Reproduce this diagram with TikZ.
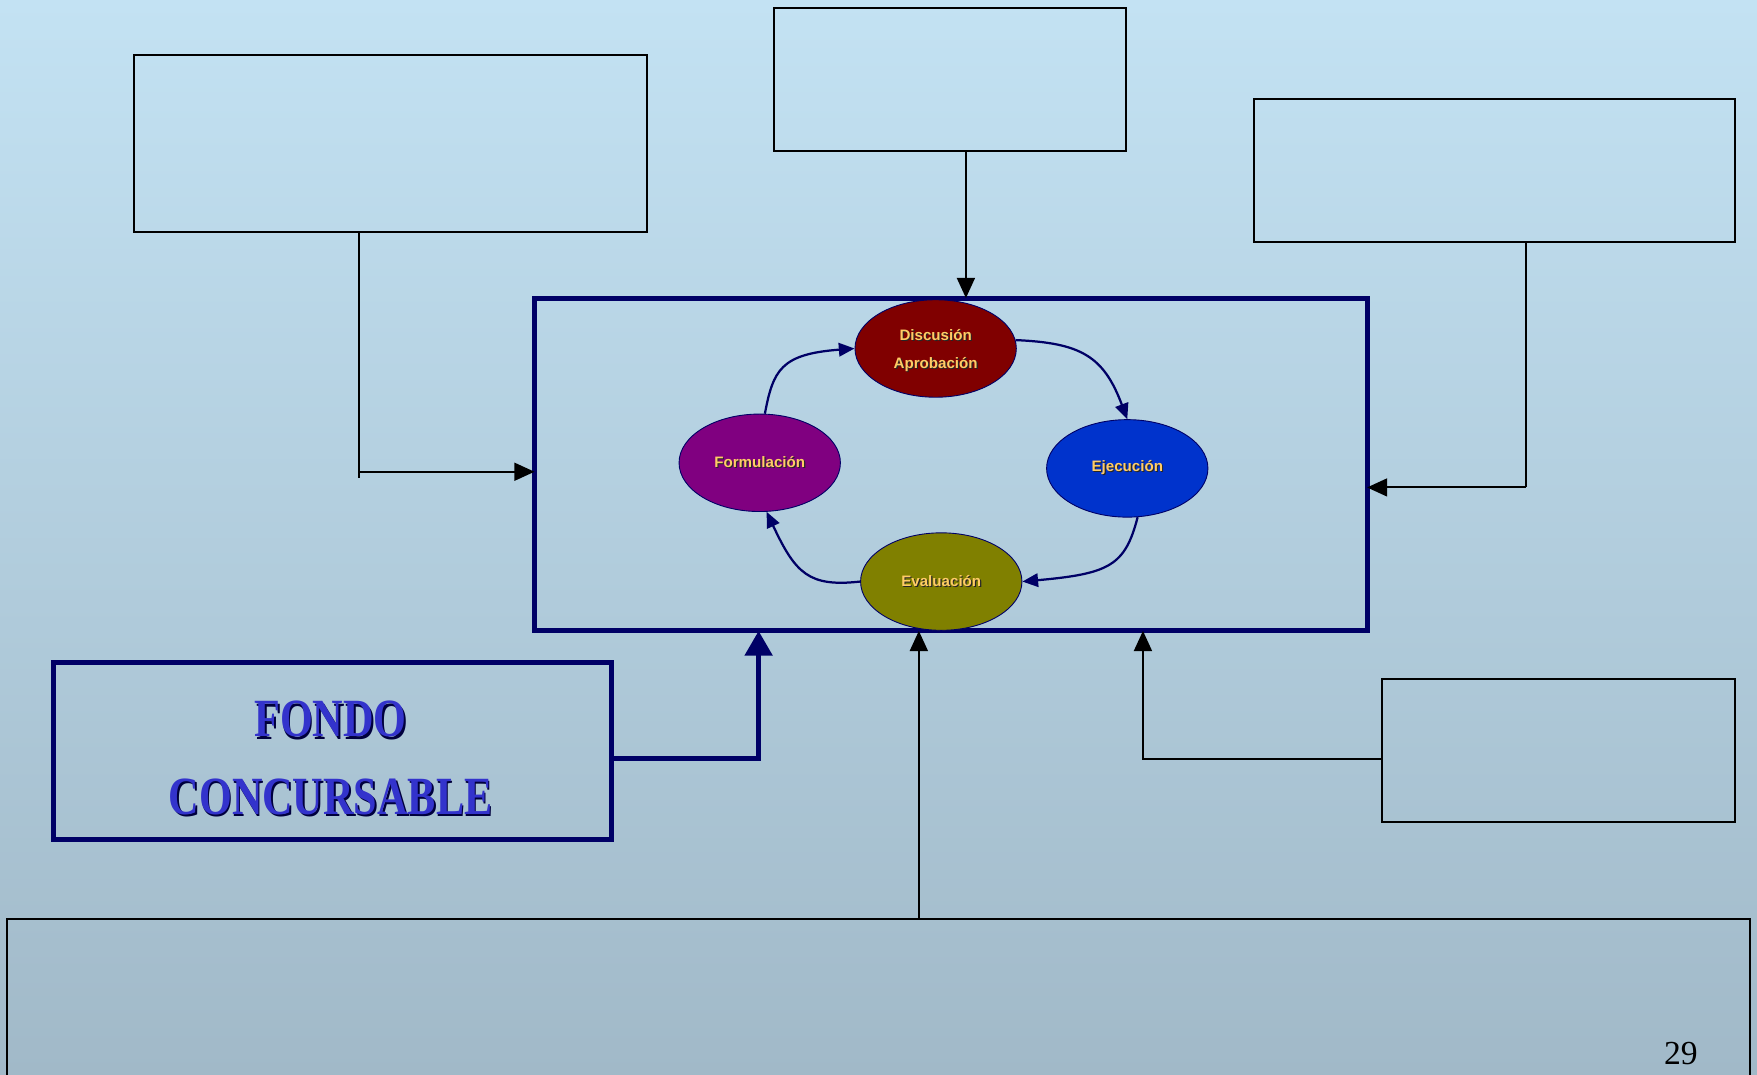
\documentclass[tikz,border=0pt]{standalone}
\usepackage{fontspec}
\usepackage{graphicx}
\setmainfont{Liberation Serif}
\newfontfamily\labelsans{Liberation Sans}
\usetikzlibrary{arrows.meta,shapes.geometric}

\definecolor{bgtop}{RGB}{195,226,243}
\definecolor{bgbot}{RGB}{161,185,200}
\definecolor{navy}{RGB}{0,0,102}
\definecolor{labelgold}{RGB}{255,204,102}
\definecolor{fondoblue}{RGB}{51,51,204}
\definecolor{discred}{RGB}{128,0,0}
\definecolor{formpurple}{RGB}{128,0,128}
\definecolor{ejecblue}{RGB}{0,51,204}
\definecolor{evalolive}{RGB}{128,128,0}

% text with a small dark drop shadow behind it
\newcommand\dropshadow[3]{\makebox[0pt][l]{\hspace{#3}\raisebox{-#3}{\color{#1}#2}}#2}

\begin{document}
\begin{tikzpicture}[x=1pt,y=-1pt,
  emptybox/.style={draw=black,line width=1.8pt,inner sep=0pt,outer sep=0pt,anchor=north west},
  thickbox/.style={draw=navy,line width=4.5pt,inner sep=0pt,outer sep=0pt,anchor=north west},
  phase/.style={ellipse,draw=navy,line width=0.8pt,inner sep=0pt,
    minimum width=144pt,minimum height=87pt,text=labelgold,align=center,
    font=\labelsans\bfseries\fontsize{13.5}{25}\selectfont},
  wire/.style={draw=black,line width=1.8pt},
  wirearrow/.style={wire,-{Triangle[length=18pt,width=16pt]}},
  fundarrow/.style={draw=navy,line width=4.5pt,-{Triangle[length=22pt,width=24pt]}},
  cycle/.style={draw=navy,line width=2pt,-{Triangle[length=14pt,width=12pt]}},
]
\clip (0,0) rectangle (1568,959);
\shade[top color=bgtop,bottom color=bgbot] (0,0) rectangle (1568,959);

% surrounding boxes
\node[emptybox,minimum width=457pt,minimum height=158pt] (tl) at (120,49) {};
\node[emptybox,minimum width=314pt,minimum height=128pt] (tc) at (691,7) {};
\node[emptybox,minimum width=429pt,minimum height=128pt] (tr) at (1119,88) {};
\node[emptybox,minimum width=315pt,minimum height=128pt] (br) at (1233,606) {};
\node[emptybox,minimum width=1556pt,minimum height=160pt] (bottom) at (6,820) {};

% central process box
\node[thickbox,minimum width=743pt,minimum height=297pt] (main) at (477,266) {};

% fund box
\node[thickbox,minimum width=498pt,minimum height=158pt] (fondo) at (48,591) {};
\node[text=fondoblue,font=\bfseries\fontsize{48}{48}\selectfont] (fondoA) at (295,643)
  {\scalebox{0.785}[1]{\dropshadow{navy!60!black}{FONDO}{2pt}}};
\node[text=fondoblue,font=\bfseries\fontsize{48}{48}\selectfont] (fondoB) at (295,712)
  {\scalebox{0.785}[1]{\dropshadow{navy!60!black}{CONCURSABLE}{2pt}}};

% cycle phases
\node[phase,fill=discred] (disc) at (835,311) {};
\node[text=labelgold,align=center,font=\labelsans\bfseries\fontsize{13.5}{25}\selectfont]
  (disclabel) at (835,313)
  {\dropshadow{black!85}{Discusión}{1pt}\\\dropshadow{black!85}{Aprobación}{1pt}};
\node[phase,fill=formpurple] (form) at (678,413) {\dropshadow{black!85}{Formulación}{1pt}};
\node[phase,fill=ejecblue] (ejec) at (1006,418) {\dropshadow{black!85}{Ejecución}{1pt}};
\node[phase,fill=evalolive] (eval) at (840,519) {\dropshadow{black!85}{Evaluación}{1pt}};

% cycle arrows
\draw[cycle] (form.84) .. controls (690,330) and (697,316) .. (disc.west);
\draw[cycle] (disc.6) .. controls (965,306) and (985,318) .. (ejec.north);
\draw[cycle] (ejec.-78) .. controls (1004,505) and (990,512) .. (eval.east);
\draw[cycle] (eval.west) .. controls (722,524) and (710,512) .. (form.-82);

% connectors into the central box
\coordinate (lbend) at (320,421);
\draw[wire] (tl.south -| lbend) -- (320,427);
\draw[wirearrow] (lbend) -- (lbend -| main.west);

\draw[wirearrow] (tc.south -| 862,0) -- (main.north -| 862,0);

\coordinate (rbend) at (1362,435);
\draw[wire] (tr.south -| rbend) -- (rbend);
\draw[wirearrow] (rbend) -- (rbend -| main.east);

\coordinate (fbend) at (677,677);
\draw[fundarrow] (fbend -| fondo.east) -- (fbend) -- (fbend |- main.south);

\draw[wirearrow] (bottom.north -| 820,0) -- (main.south -| 820,0);

\coordinate (brbend) at (1020,677);
\draw[wirearrow] (brbend -| br.west) -- (brbend) -- (brbend |- main.south);

% page number
\node[anchor=base,font=\fontsize{30}{30}\selectfont,inner sep=0pt] (pagenum) at (1500,950) {29};
\end{tikzpicture}
\end{document}
